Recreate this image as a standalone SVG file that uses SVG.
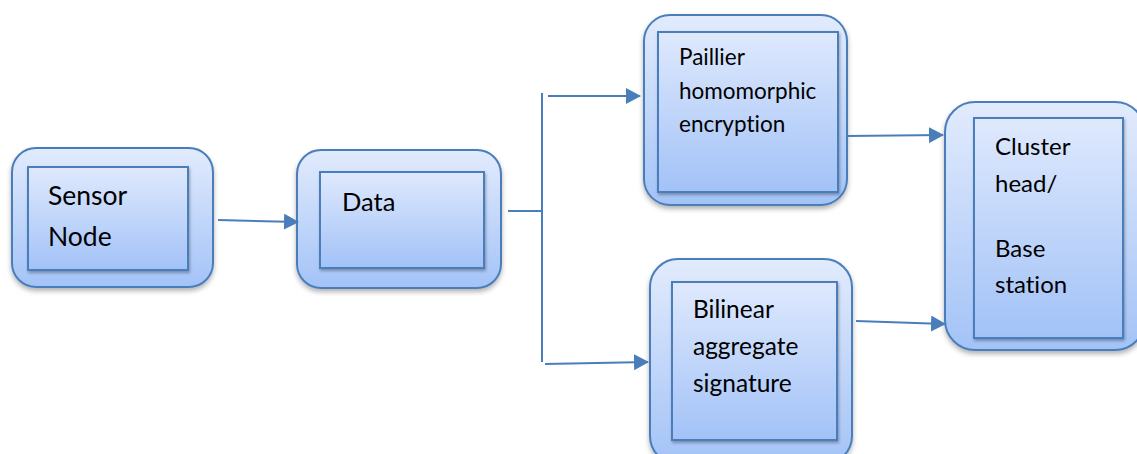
<svg xmlns="http://www.w3.org/2000/svg" width="1137" height="454" viewBox="0 0 1137 454">
<style>
.outer{fill:url(#g1);stroke:#4a7ebb;stroke-width:2;filter:url(#sh)}
.inner{fill:url(#g2);stroke:#4a7ebb;stroke-width:2;filter:url(#sh2)}
.t{font-family:Lato,"Liberation Sans",sans-serif;fill:#000;font-variant-ligatures:none}
.c{fill:none;stroke:#4a7ebb;stroke-width:2}
</style>
<defs>
<linearGradient id="g1" x1="0" y1="0" x2="0" y2="1"><stop offset="0" stop-color="#e2ebfd"/><stop offset="1" stop-color="#a3c3f7"/></linearGradient>
<linearGradient id="g2" x1="0" y1="0" x2="0" y2="1"><stop offset="0" stop-color="#dfe9fd"/><stop offset="1" stop-color="#a2c2f7"/></linearGradient>
<filter id="sh" x="-10%" y="-10%" width="130%" height="130%"><feDropShadow dx="0" dy="3" stdDeviation="2.5" flood-color="#000" flood-opacity="0.3"/></filter>
<filter id="sh2" x="-10%" y="-10%" width="130%" height="130%"><feDropShadow dx="1" dy="2" stdDeviation="1.5" flood-color="#000" flood-opacity="0.3"/></filter>
<marker id="ah" markerWidth="8" markerHeight="8" refX="7" refY="4" orient="auto" markerUnits="strokeWidth"><path d="M0,0 L7.5,4 L0,8 Z" fill="#4a7ebb"/></marker>
</defs>
<g id="sensor">
<rect class="outer" x="12" y="148" width="201" height="139" rx="24"/>
<rect class="inner" x="28" y="167" width="160" height="103"/>
<text class="t" x="48" y="205" font-size="26.5">Sensor</text>
<text class="t" x="48" y="246" font-size="26.5">Node</text>
</g>
<g id="data">
<rect class="outer" x="297" y="150" width="204" height="138" rx="24"/>
<rect class="inner" x="320" y="172" width="164" height="96"/>
<text class="t" x="342" y="211" font-size="25.5">Data</text>
</g>
<g id="paillier">
<rect class="outer" x="644" y="15" width="203" height="190" rx="26"/>
<rect class="inner" x="658" y="32" width="180" height="160"/>
<text class="t" x="679" y="65" font-size="22.5">Paillier</text>
<text class="t" x="679" y="99" font-size="22.5">homomorphic</text>
<text class="t" x="679" y="132" font-size="22.5">encryption</text>
</g>
<g id="bilinear">
<rect class="outer" x="650" y="259" width="202" height="205" rx="28"/>
<rect class="inner" x="672" y="282" width="165" height="158"/>
<text class="t" x="693" y="318" font-size="24.5">Bilinear</text>
<text class="t" x="693" y="355" font-size="24.5">aggregate</text>
<text class="t" x="693" y="392" font-size="24.5">signature</text>
</g>
<g id="cluster">
<rect class="outer" x="945" y="102" width="200" height="248" rx="30"/>
<rect class="inner" x="974" y="118" width="149" height="220"/>
<text class="t" x="995" y="155" font-size="24">Cluster</text>
<text class="t" x="995" y="192" font-size="24">head/</text>
<text class="t" x="995" y="257" font-size="24">Base</text>
<text class="t" x="995" y="293" font-size="24">station</text>
</g>
<g id="connectors">
<path class="c" d="M218,220 L298,222" marker-end="url(#ah)"/>
<path class="c" d="M508,211 L542,211"/>
<path class="c" d="M542,93 L542,362"/>
<path class="c" d="M548,96 L640,96" marker-end="url(#ah)"/>
<path class="c" d="M545,364 L648,362" marker-end="url(#ah)"/>
<path class="c" d="M847,136 L943,135" marker-end="url(#ah)"/>
<path class="c" d="M856,321 L945,324" marker-end="url(#ah)"/>
</g>
</svg>
